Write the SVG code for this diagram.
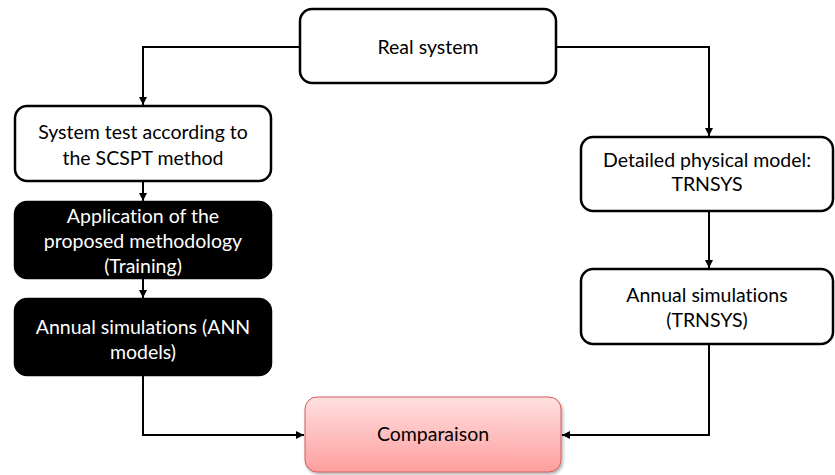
<svg xmlns="http://www.w3.org/2000/svg" width="835" height="475" viewBox="0 0 835 475">
<defs>
<linearGradient id="pink" x1="0" y1="0" x2="0" y2="1">
<stop offset="0" stop-color="#ffe0e0"/>
<stop offset="1" stop-color="#ff9e9e"/>
</linearGradient>
<filter id="sh" x="-10%" y="-10%" width="130%" height="130%">
<feDropShadow dx="1.5" dy="2" stdDeviation="1.5" flood-color="#000" flood-opacity="0.3"/>
</filter>
<marker id="arr" viewBox="0 0 10 10" refX="10" refY="5" markerWidth="4" markerHeight="4" orient="auto" markerUnits="strokeWidth">
<path d="M0,0 L10,5 L0,10 z" fill="#000"/>
</marker>
<style>
.w{fill:#fff;stroke:#000;stroke-width:2.5}
.b{fill:#000;stroke:#000;stroke-width:2.5}
.t{font-family:Lato,"Open Sans",sans-serif;font-size:19.5px;text-anchor:middle;fill:#000;font-variant-ligatures:none}
.tw{font-family:Lato,"Open Sans",sans-serif;font-size:19.5px;text-anchor:middle;fill:#fff;font-variant-ligatures:none}
.c{fill:none;stroke:#000;stroke-width:2;marker-end:url(#arr)}
</style>
</defs>
<g id="connectors">
<path class="c" d="M300,47 H143 V105"/>
<path class="c" d="M556,47 H709 V136"/>
<path class="c" d="M143,181 V201"/>
<path class="c" d="M143,278 V298"/>
<path class="c" d="M709,211 V268"/>
<path class="c" d="M143,375 V435 H304"/>
<path class="c" d="M709,344 V435 H562"/>
</g>
<g id="real">
<rect class="w" x="300" y="9" width="256" height="74" rx="12"/>
<text class="t" x="428" y="54">Real system</text>
</g>
<g id="test">
<rect class="w" x="15" y="106" width="256" height="75" rx="12"/>
<text class="t" x="143" y="139">System test according to</text>
<text class="t" x="143" y="165">the SCSPT method</text>
</g>
<g id="application">
<rect class="b" x="15" y="202" width="256" height="76" rx="12"/>
<text class="tw" x="143" y="223">Application of the</text>
<text class="tw" x="143" y="248">proposed methodology</text>
<text class="tw" x="143" y="273">(Training)</text>
</g>
<g id="ann">
<rect class="b" x="15" y="299" width="256" height="76" rx="12"/>
<text class="tw" x="143" y="334">Annual simulations (ANN</text>
<text class="tw" x="143" y="359">models)</text>
</g>
<g id="detailed">
<rect class="w" x="581" y="137" width="252" height="74" rx="12"/>
<text class="t" x="707" y="167">Detailed physical model:</text>
<text class="t" x="707" y="191">TRNSYS</text>
</g>
<g id="trnsys">
<rect class="w" x="581" y="269" width="252" height="75" rx="12"/>
<text class="t" x="707" y="302">Annual simulations</text>
<text class="t" x="707" y="327">(TRNSYS)</text>
</g>
<g id="comparaison">
<rect x="305" y="397" width="256" height="75" rx="12" fill="url(#pink)" stroke="#d05a5a" stroke-width="1" filter="url(#sh)"/>
<text class="t" x="433" y="441">Comparaison</text>
</g>
</svg>
